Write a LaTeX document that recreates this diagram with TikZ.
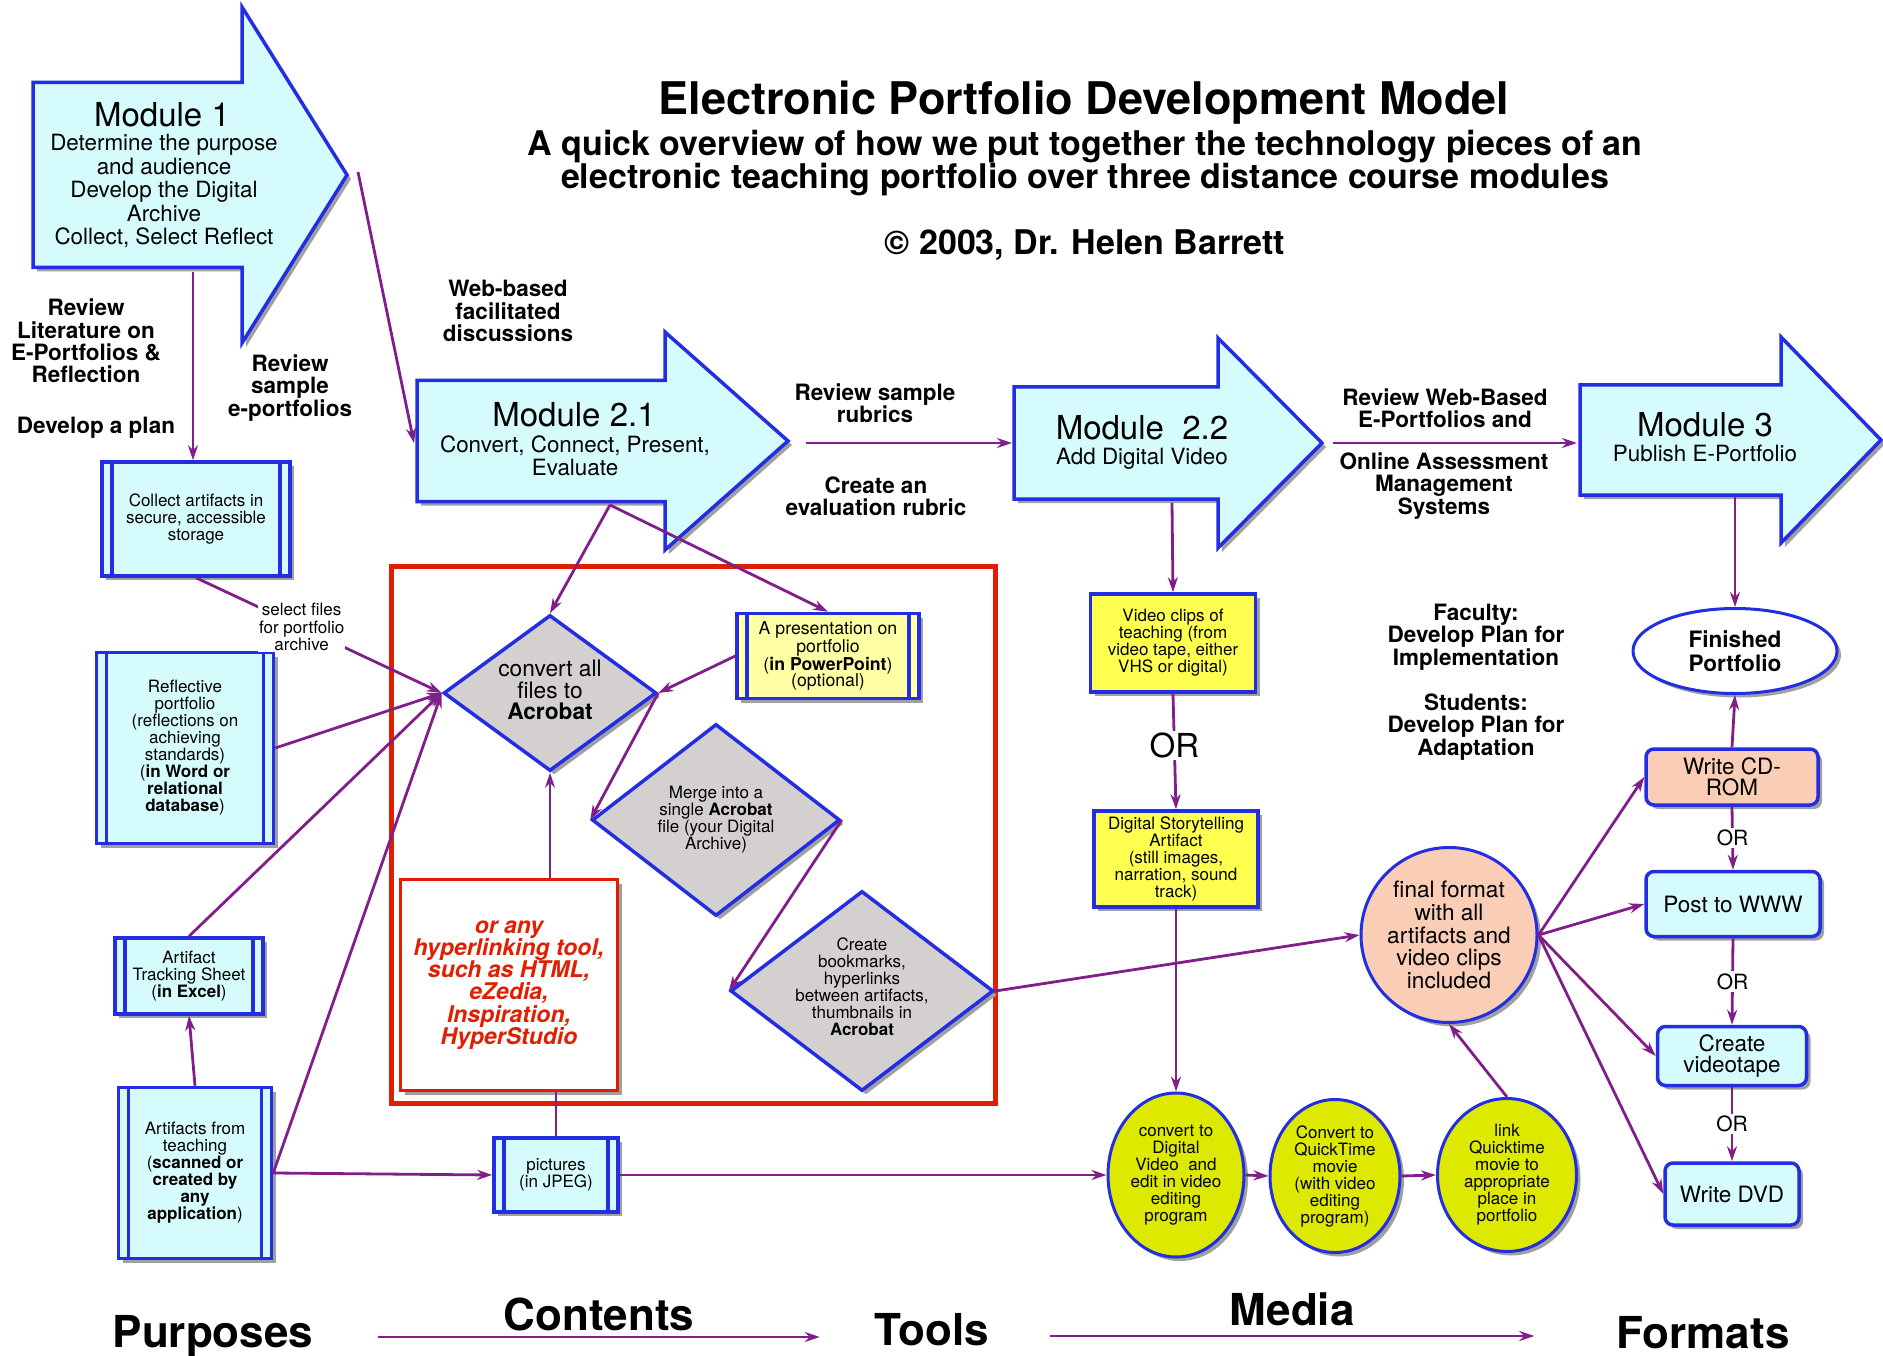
\documentclass[tikz,border=0pt]{standalone}
\usepackage{fontspec}
\setmainfont{TeX Gyre Heros}
\usetikzlibrary{shapes.geometric,arrows.meta,shadows}

\definecolor{mblue}{RGB}{35,45,225}
\definecolor{mcyan}{RGB}{214,251,252}
\definecolor{mpurple}{RGB}{128,30,138}
\definecolor{mgrey}{RGB}{212,208,208}
\definecolor{myellow}{RGB}{255,255,80}
\definecolor{mpale}{RGB}{255,255,165}
\definecolor{mlime}{RGB}{221,234,0}
\definecolor{mpeach}{RGB}{250,205,182}
\definecolor{mred}{RGB}{225,30,0}
\definecolor{mshade}{RGB}{160,160,160}

\newcommand\fsz[2]{\fontsize{#1}{#2}\selectfont}

\begin{document}
\begin{tikzpicture}[x=1pt,y=-1pt,
  dropsh/.style={drop shadow={shadow xshift=4pt,shadow yshift=-4pt,fill=mshade,opacity=1}},
  modshape/.style={draw=mblue,line width=3.5pt,fill=mcyan,dropsh},
  modhead/.style={inner sep=0pt,font=\fsz{33}{36}},
  modtxt/.style={inner sep=0pt,align=center,font=\fsz{22.4}{23.5}},
  boldlab/.style={inner sep=0pt,align=center,font=\fsz{22.5}{22.3}\bfseries},
  boxtxt/.style={align=center,inner sep=0pt,font=\fsz{17}{17}},
  procbox/.style={rectangle,draw=mblue,line width=3.5pt,fill=mcyan,dropsh,boxtxt,
    path picture={\draw[mblue,line width=3.5pt]
      ([xshift=10pt]path picture bounding box.north west) -- ([xshift=10pt]path picture bounding box.south west)
      ([xshift=-10pt]path picture bounding box.north east) -- ([xshift=-10pt]path picture bounding box.south east);}},
  yelbox/.style={rectangle,draw=mblue,line width=3.5pt,fill=myellow,dropsh,boxtxt},
  dia/.style={diamond,draw=mblue,line width=3.5pt,fill=mgrey,dropsh,inner sep=0pt},
  blob/.style={ellipse,draw=mblue,line width=3pt,dropsh,inner sep=0pt,align=center},
  outbox/.style={rectangle,rounded corners=8pt,draw=mblue,line width=3.5pt,fill=mcyan,dropsh,
    align=center,inner sep=0pt,font=\fsz{22.5}{20.5}},
  link/.style={draw=mpurple,line width=2.8pt},
  conn/.style={link,-{Stealth[length=15pt,width=10pt]}},
  orlab/.style={fill=white,inner sep=2pt,font=\fsz{21}{21}},
  bottomlab/.style={inner sep=0pt,font=\fsz{44}{44}\bfseries},
]
  \useasboundingbox (0,0) rectangle (1883,1356);

  % big arrows for the modules
  \newcommand\modarrow[6]{%{x0}{neck}{tip}{yc}{half body}{half head}
  \filldraw[modshape] (#1,#4-#5) -- (#2,#4-#5) -- (#2,#4-#6) -- (#3,#4) -- (#2,#4+#6) -- (#2,#4+#5) -- (#1,#4+#5) -- cycle;
  }

  % titles
  \node[anchor=base,font=\fsz{45}{50}\bfseries,inner sep=0pt] (title) at (1084,115) {Electronic Portfolio Development Model};
  \node[font=\fsz{34}{33}\bfseries,align=center,inner sep=0pt] (subtitle) at (1085,163) {A quick overview of how we put together the technology pieces of an\\electronic teaching portfolio over three distance course modules};
  \node[font=\fsz{34}{33}\bfseries,inner sep=0pt] (copyr) at (1085,245) {© 2003, Dr. Helen Barrett};

  \draw[mred,line width=5pt] (391,566) rectangle (995,1103);

  \modarrow{33}{242}{347}{175}{92.5}{168}
  \node[modhead] (m1) at (162,115) {Module 1};
  \node[modtxt] (m1txt) at (164,191) {Determine the purpose\\and audience\\Develop the Digital\\Archive\\Collect, Select Reflect};

  \modarrow{417}{665}{788}{441}{60.5}{109}
  \node[modhead] (m21) at (574,415) {Module 2.1};
  \node[modtxt] (m21txt) at (575,456) {Convert, Connect, Present,\\Evaluate};

  \modarrow{1014}{1218}{1322}{443}{56}{105}
  \node[modhead] (m22) at (1142,428) {Module\ \ 2.2};
  \node[modtxt] (m22txt) at (1142,459) {Add Digital Video};

  \modarrow{1580}{1781}{1881}{440}{55}{103}
  \node[modhead] (m3) at (1705,425) {Module 3};
  \node[modtxt] (m3txt) at (1705,453) {Publish E-Portfolio};

  \coordinate (m1b) at (193,272);
  \coordinate (m1t) at (358,172);
  \coordinate (m21w) at (414,443);
  \coordinate (m21b) at (610,505);
  \coordinate (m21e) at (806,443);
  \coordinate (m22w) at (1012,443);
  \coordinate (m22b) at (1172,503);
  \coordinate (m22e) at (1333,443);
  \coordinate (m3w) at (1577,443);
  \coordinate (m3b) at (1735,497);

  % labels
  \node[boldlab] (litlab) at (86,341) {Review\\Literature on\\E-Portfolios \&\\Reflection};
  \node[boldlab] (planlab) at (96,428) {Develop a plan};
  \node[boldlab] (samplab) at (290,388) {Review\\sample\\e-portfolios};
  \node[boldlab] (weblab) at (508,311) {Web-based\\facilitated\\discussions};
  \node[boldlab] (rubriclab) at (875,403) {Review sample\\rubrics};
  \node[boldlab] (evallab) at (876,496) {Create an\\evaluation rubric};
  \node[boldlab] (wblab) at (1445,408) {Review Web-Based\\E-Portfolios and};
  \node[boldlab] (oamlab) at (1444,486) {Online Assessment\\Management\\Systems};
  \node[boldlab] (faclab) at (1476,637) {Faculty:\\Develop Plan for\\Implementation};
  \node[boldlab] (stulab) at (1476,727) {Students:\\Develop Plan for\\Adaptation};

  % purposes column
  \node[procbox,minimum width=188pt,minimum height=114pt] (collect) at (196,519) {Collect artifacts in\\secure, accessible\\storage};
  \node[procbox,minimum width=177pt,minimum height=191pt] (reflect) at (185,748) {Reflective\\portfolio\\(reflections on\\achieving\\standards)\\(\textbf{in Word or}\\\textbf{relational}\\\textbf{database})};
  \node[procbox,minimum width=148pt,minimum height=76pt] (tracking) at (189,976) {Artifact\\Tracking Sheet\\(\textbf{in Excel})};
  \node[procbox,minimum width=153pt,minimum height=171pt] (artifacts) at (195,1173) {Artifacts from\\teaching\\(\textbf{scanned or}\\\textbf{created by}\\\textbf{any}\\\textbf{application})};
  \node[procbox,minimum width=124pt,minimum height=74pt] (pictures) at (556,1175) {pictures\\(in JPEG)};

  % contents inside the red frame
  \node[dia,minimum width=213pt,minimum height=156pt] (convert) at (550,693) {};
  \node[inner sep=0pt,align=center,font=\fsz{22.7}{21.5}] (converttxt) at (550,690) {convert all\\files to\\\textbf{Acrobat}};
  \node[procbox,fill=mpale,font=\fsz{17.7}{16.7},minimum width=182pt,minimum height=85pt] (present) at (828,656) {A presentation on\\portfolio\\(\textbf{in PowerPoint})\\(optional)};
  \node[dia,minimum width=248pt,minimum height=192pt] (merge) at (716,820) {};
  \node[boxtxt] (mergetxt) at (716,820) {Merge into a\\single \textbf{Acrobat}\\file (your Digital\\Archive)};
  \node[dia,minimum width=263pt,minimum height=200pt] (create) at (862,991) {};
  \node[boxtxt] (createtxt) at (862,987) {Create\\bookmarks,\\hyperlinks\\between artifacts,\\thumbnails in\\\textbf{Acrobat}};
  \node[draw=mred,line width=2.5pt,fill=white,dropsh,minimum width=217pt,minimum height=211pt,inner sep=0pt,
    align=center,text=mred,font=\fsz{23}{22.2}\bfseries\itshape] (orany) at (509,985) {or any\\hyperlinking tool,\\such as HTML,\\eZedia,\\Inspiration,\\HyperStudio};

  % media
  \node[yelbox,minimum width=165pt,minimum height=98pt] (video) at (1173,643) {Video clips of\\teaching (from\\video tape, either\\VHS or digital)};
  \node[yelbox,minimum width=164pt,minimum height=96pt] (story) at (1176,859) {Digital Storytelling\\Artifact\\(still images,\\narration, sound\\track)};
  \node[blob,fill=mlime,font=\fsz{17}{17},minimum width=136pt,minimum height=164pt] (dv) at (1176,1175) {convert to\\Digital\\Video\ \ and\\edit in video\\editing\\program};
  \node[blob,fill=mlime,font=\fsz{17}{17},minimum width=130pt,minimum height=153pt] (qt) at (1335,1176) {Convert to\\QuickTime\\movie\\(with video\\editing\\program)};
  \node[blob,fill=mlime,font=\fsz{17}{17},minimum width=139pt,minimum height=153pt] (qtlink) at (1507,1175) {link\\Quicktime\\movie to\\appropriate\\place in\\portfolio};
  \node[blob,fill=mpeach,font=\fsz{22.6}{22.8},minimum width=176pt,minimum height=175pt] (final) at (1449,935) {final format\\with all\\artifacts and\\video clips\\included};

  % formats
  \node[blob,fill=white,font=\fsz{22.6}{24}\bfseries,minimum width=204pt,minimum height=85pt] (finished) at (1735,651) {Finished\\Portfolio};
  \node[outbox,fill=mpeach,minimum width=172pt,minimum height=56pt] (cdrom) at (1732,777) {Write CD-\\ROM};
  \node[outbox,minimum width=174pt,minimum height=65pt] (www) at (1733,904) {Post to WWW};
  \node[outbox,minimum width=149pt,minimum height=59pt] (vtape) at (1732,1056) {Create\\videotape};
  \node[outbox,minimum width=134pt,minimum height=62pt] (dvd) at (1732,1194) {Write DVD};

  % connectors
  \draw[conn] (m1b) -- (m1b |- collect.north);
  \draw[conn] (m1t) -- (m21w);
  \draw[conn] (collect.south) -- node[pos=.43,fill=white,inner sep=1pt,align=center,font=\fsz{17}{17.5}] (selectlab) {select files\\for portfolio\\archive} (convert.west);
  \draw[conn] (reflect.east) -- (convert.west);
  \draw[conn] (tracking.north) -- (convert.west);
  \draw[conn] (artifacts.east) -- (convert.west);
  \draw[conn] (artifacts.north) -- (tracking.south);
  \draw[conn] (artifacts.east) -- (pictures.west);
  \draw[link] (pictures.north) -- (pictures.north |- orany.south);
  \draw[conn] (convert.south |- orany.north) -- (convert.south);
  \draw[conn] (m21b) -- (convert.north);
  \draw[conn] (m21b) -- (present.north);
  \draw[conn] (present.west) -- (convert.east);
  \draw[conn] (convert.east) -- (merge.west);
  \draw[conn] (merge.east) -- (create.west);
  \draw[conn] (create.east) -- (final.west);
  \draw[conn] (m21e) -- (m22w);
  \draw[conn] (m22e) -- (m3w);
  \draw[conn] (m22b) -- (video.north);
  \draw[conn] (video.south) -- node[pos=.45,fill=white,inner sep=2pt,font=\fsz{33}{33}] (orvid) {OR} (story.north);
  \draw[conn] (story.south) -- (dv.north);
  \draw[conn] (pictures.east) -- (dv.west);
  \draw[conn] (dv.east) -- (qt.west);
  \draw[conn] (qt.east) -- (qtlink.west);
  \draw[conn] (qtlink.north) -- (final.south);
  \draw[conn] (m3b) -- (finished.north);
  \draw[conn] (cdrom.north) -- (finished.south);
  \draw[conn] (cdrom.south) -- node[orlab] (or1) {OR} (www.north);
  \draw[conn] (www.south) -- node[orlab] (or2) {OR} (vtape.north);
  \draw[conn] (vtape.south) -- node[orlab] (or3) {OR} (dvd.north);
  \draw[conn] (final.east) -- (cdrom.west);
  \draw[conn] (final.east) -- (www.west);
  \draw[conn] (final.east) -- (vtape.west);
  \draw[conn] (final.east) -- (dvd.west);

  % bottom row
  \node[bottomlab,anchor=base] (purposes) at (213,1347) {Purposes};
  \node[bottomlab,anchor=base] (tools) at (932,1345) {Tools};
  \node[bottomlab,anchor=base] (formats) at (1703,1348) {Formats};
  \draw[conn] ([xshift=65pt]purposes.east |- 0,1337) -- node[bottomlab,above=5pt] (contents) {Contents} ([xshift=-55pt]tools.west |- 0,1337);
  \draw[conn] ([xshift=61pt]tools.east |- 0,1336) -- node[bottomlab,above=9pt] (media) {Media} ([xshift=-82pt]formats.west |- 0,1336);
\end{tikzpicture}
\end{document}
